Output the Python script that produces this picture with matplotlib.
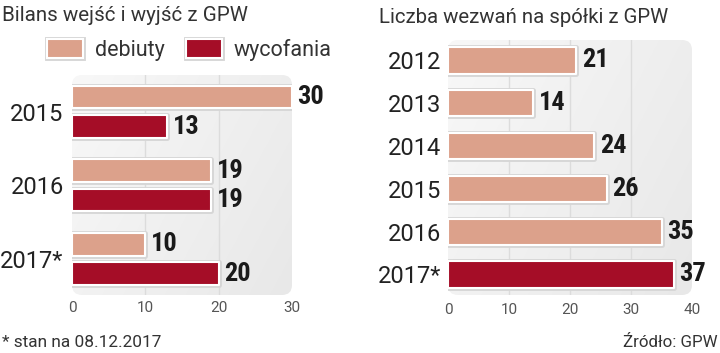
import numpy as np
import matplotlib
matplotlib.use("Agg")
import matplotlib.pyplot as plt
from matplotlib import font_manager as fm
from matplotlib.patches import FancyBboxPatch
import matplotlib.patheffects as pe
from matplotlib.colors import LinearSegmentedColormap

# ---- data ----
years_left = ['2015', '2016', '2017*']
debiuty = [30, 19, 10]
wycofania = [13, 19, 20]

years_right = ['2012', '2013', '2014', '2015', '2016', '2017*']
wezwania = [21, 14, 24, 26, 35, 37]

SALMON = '#dca18b'
DARKRED = '#a50d27'
TXT = '#222222'

plt.rcParams['font.family'] = ['Roboto', 'DejaVu Sans']

# pick a narrow bold font for value labels if one is installed
names = {f.name for f in fm.fontManager.ttflist}
val_family, val_size, val_stretch = 'Roboto', 17, 'normal'
for cand, size in [('Roboto Condensed', 19), ('Liberation Sans Narrow', 20),
                   ('Open Sans Condensed', 19)]:
    if cand in names:
        val_family, val_size = cand, size
        break
else:
    cond = [f for f in fm.fontManager.ttflist
            if f.name == 'DejaVu Sans' and 'ondensed' in f.fname and f.weight in (700, 'bold')]
    if cond:
        val_family, val_size, val_stretch = 'DejaVu Sans', 15.5, 'condensed'

W, H = 720, 353
fig = plt.figure(figsize=(W / 100, H / 100), dpi=100)


def px_axes(x0, y0, x1, y1):
    return fig.add_axes([x0 / W, 1 - y1 / H, (x1 - x0) / W, (y1 - y0) / H])


cmap = LinearSegmentedColormap.from_list('bg', ['#f8f8f8', '#e8e8e8'])


def panel(ax, wpx, hpx):
    ax.patch.set_visible(False)
    r = 10 / wpx
    box = FancyBboxPatch((0, 0), 1, 1, boxstyle=f'round,pad=0,rounding_size={r}',
                         transform=ax.transAxes, mutation_aspect=wpx / hpx,
                         facecolor='none', edgecolor='none')
    ax.add_patch(box)
    gx, gy = np.meshgrid(np.linspace(0, 1, 200), np.linspace(0, 1, 200))
    val = 0.65 * gx + 0.35 * gy
    im = ax.imshow(val, extent=[0, 1, 0, 1], transform=ax.transAxes, cmap=cmap,
                   aspect='auto', origin='upper', zorder=0, interpolation='bilinear')
    im.set_clip_path(box)
    for s in ax.spines.values():
        s.set_visible(False)


bar_fx = [pe.Stroke(linewidth=3.5, foreground='#d6d6d6'), pe.Normal()]
val_kw = dict(fontsize=val_size, fontweight='bold', color='#1a1a1a',
              family=[val_family, 'DejaVu Sans'], fontstretch=val_stretch)

# ---- left chart ----
axL = px_axes(72, 75, 292, 295)
panel(axL, 220, 220)
yL = np.arange(len(years_left))
off, hL = 0.2, 0.31
b1 = axL.barh(yL - off, debiuty, height=hL, color=SALMON, edgecolor='white',
              linewidth=1.5, label='debiuty', zorder=3, joinstyle='round')
b2 = axL.barh(yL + off, wycofania, height=hL, color=DARKRED, edgecolor='white',
              linewidth=1.5, label='wycofania', zorder=3, joinstyle='round')
for p in list(b1) + list(b2):
    p.set_path_effects(bar_fx)
axL.bar_label(b1, padding=4, **val_kw)
axL.bar_label(b2, padding=4, **val_kw)
for x in [10, 20]:
    axL.axvline(x, color='#dcdcdc', lw=1, zorder=1)
axL.set_xlim(0, 30)
axL.set_ylim(2.49, -0.50)
axL.set_xticks([0, 10, 20, 30])
axL.set_yticks(yL, years_left)
axL.tick_params(axis='y', length=0, pad=6, labelsize=17, labelcolor=TXT)
axL.tick_params(axis='x', length=0, pad=4, labelsize=11, labelcolor='#555555')

# ---- right chart ----
axR = px_axes(448, 40, 692, 295)
panel(axR, 244, 255)
yR = np.arange(len(years_right))
colorsR = [SALMON] * (len(years_right) - 1) + [DARKRED]
b3 = axR.barh(yR, wezwania, height=0.61, color=colorsR, edgecolor='white',
              linewidth=1.5, zorder=3, joinstyle='round')
for p in b3:
    p.set_path_effects(bar_fx)
axR.bar_label(b3, padding=4, **val_kw)
for x in [10, 20, 30]:
    axR.axvline(x, color='#dcdcdc', lw=1, zorder=1)
axR.set_xlim(0, 40)
axR.set_ylim(5.48, -0.479)
axR.set_xticks([0, 10, 20, 30, 40])
axR.set_yticks(yR, years_right)
axR.tick_params(axis='y', length=0, pad=5, labelsize=17, labelcolor=TXT)
axR.tick_params(axis='x', length=0, pad=6, labelsize=11, labelcolor='#555555')

# ---- legend ----
fs_leg = 15.5
em = fs_leg * 100 / 72
fig.legend(handles=[b1, b2], labels=['debiuty', 'wycofania'], loc='center left',
           bbox_to_anchor=(47 / W, 1 - 50 / H), ncol=2, frameon=False,
           fontsize=fs_leg, handlelength=36 / em, handleheight=20 / em,
           handletextpad=12 / em, columnspacing=21 / em, borderpad=0,
           borderaxespad=0, labelcolor='#333333')

# ---- titles / notes ----
fig.text(2 / W, 1 - 21 / H, 'Bilans wejść i wyjść z GPW', fontsize=14.8,
         color='#333333', va='baseline', ha='left')
fig.text(379 / W, 1 - 23 / H, 'Liczba wezwań na spółki z GPW', fontsize=14.7,
         color='#333333', va='baseline', ha='left')
fig.text(2 / W, 1 - 347 / H, '* stan na 08.12.2017', fontsize=12.4,
         color='#333333', va='baseline', ha='left')
fig.text(718 / W, 1 - 347 / H, 'Źródło: GPW', fontsize=12.2,
         color='#333333', va='baseline', ha='right')

fig.savefig('out.png', dpi=100)
